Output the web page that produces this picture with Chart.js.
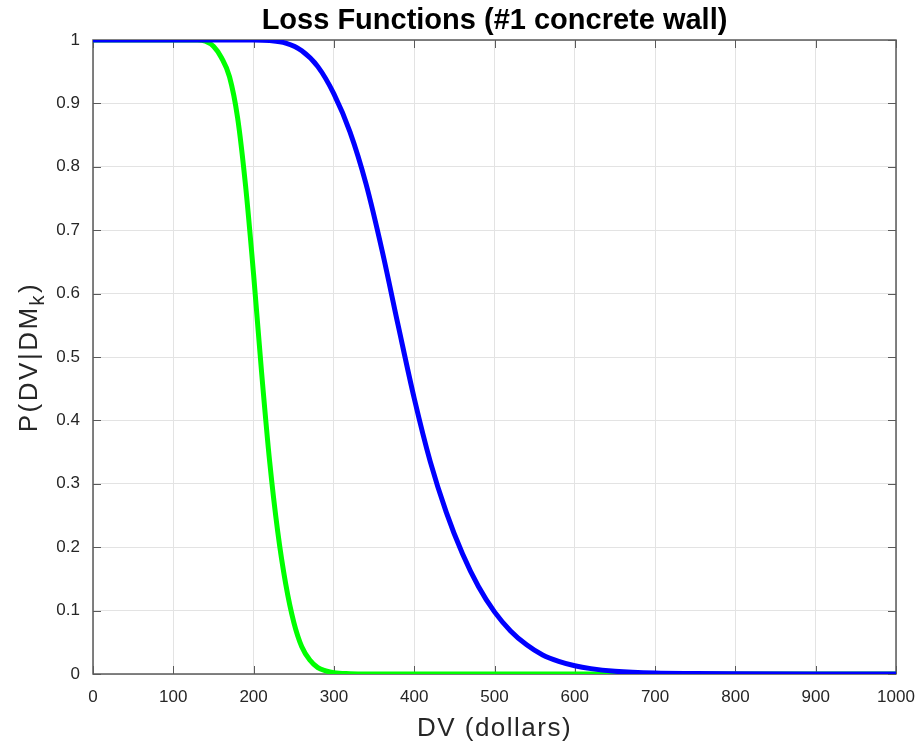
<!DOCTYPE html>
<html>
<head>
<meta charset="utf-8">
<title>Loss Functions</title>
<script src="https://cdn.jsdelivr.net/npm/chart.js@4.4.1/dist/chart.umd.min.js"></script>
<style>
  html, body { margin: 0; padding: 0; background: #fff; }
  #wrap { width: 920px; height: 749px; }
</style>
</head>
<body>
<div id="wrap"><canvas id="lossChart" width="920" height="749"></canvas></div>
<script>
// loss function for damage state 1 (green)
const dvGreen = [0, 100, 130, 140, 150, 160, 170, 180, 190, 200, 210, 220, 230, 240, 250,
  260, 270, 280, 290, 300, 320, 340, 400, 500, 600, 700, 800, 900, 1000];
const pGreen = [1, 1, 1, 0.998, 0.99, 0.972, 0.942, 0.878, 0.77, 0.63, 0.475, 0.335, 0.225,
  0.142, 0.082, 0.043, 0.022, 0.01, 0.005, 0.002, 0.0005, 0, 0, 0, 0, 0, 0, 0, 0];

// loss function for damage state 2 (blue)
const dvBlue = [0, 100, 200, 220, 240, 260, 280, 300, 320, 340, 360, 380, 400, 420, 440, 460,
  480, 500, 520, 540, 560, 580, 600, 620, 650, 700, 750, 800, 900, 1000];
const pBlue = [1, 1, 1, 0.999, 0.995, 0.983, 0.958, 0.915, 0.855, 0.773, 0.668, 0.55, 0.435,
  0.335, 0.255, 0.19, 0.138, 0.098, 0.068, 0.046, 0.03, 0.02, 0.013, 0.0085, 0.0045, 0.0015,
  0.0007, 0.0003, 0, 0];

const xTickStep = 100;
const yTickStep = 0.1;

const FONT = '"Liberation Sans", Arial, Helvetica, sans-serif';
const AXIS_COLOR = '#262626';
const FRAME_COLOR = '#5a5a5a';

function toPoints(xs, ys) {
  return xs.map((x, i) => ({ x: x, y: ys[i] }));
}

// box around the axes with inward tick marks, plus the title and axis labels
const matlabFrame = {
  id: 'matlabFrame',
  beforeDatasetsDraw(chart) {
    const ctx = chart.ctx;
    const a = chart.chartArea;
    const xs = chart.scales.x, ys = chart.scales.y;
    ctx.save();
    ctx.strokeStyle = FRAME_COLOR;
    ctx.lineWidth = 1.5;
    ctx.strokeRect(a.left, a.top, a.right - a.left, a.bottom - a.top);
    ctx.beginPath();
    xs.ticks.forEach(t => {
      const px = Math.round(xs.getPixelForValue(t.value)) + 0.5;
      ctx.moveTo(px, a.bottom); ctx.lineTo(px, a.bottom - 8);
      ctx.moveTo(px, a.top); ctx.lineTo(px, a.top + 8);
    });
    ys.ticks.forEach(t => {
      const py = Math.round(ys.getPixelForValue(t.value)) + 0.5;
      ctx.moveTo(a.left, py); ctx.lineTo(a.left + 8, py);
      ctx.moveTo(a.right, py); ctx.lineTo(a.right - 8, py);
    });
    ctx.lineWidth = 1;
    ctx.stroke();
    ctx.restore();
  },
  afterDraw(chart) {
    const ctx = chart.ctx;
    const a = chart.chartArea;
    const cx = (a.left + a.right) / 2;
    ctx.save();
    ctx.fillStyle = '#000';
    ctx.textAlign = 'center';
    ctx.textBaseline = 'alphabetic';
    ctx.font = 'bold 29px ' + FONT;
    ctx.fillText('Loss Functions (#1 concrete wall)', cx, 29);

    ctx.fillStyle = AXIS_COLOR;
    ctx.letterSpacing = '1.5px';
    ctx.font = '26px ' + FONT;
    ctx.fillText('DV (dollars)', cx, 736);

    // y label with subscript k
    ctx.translate(37, (a.top + a.bottom) / 2);
    ctx.rotate(-Math.PI / 2);
    ctx.letterSpacing = '2.5px';
    const main1 = 'P(DV|DM';
    const sub = 'k';
    const main2 = ')';
    ctx.font = '26px ' + FONT;
    const w1 = ctx.measureText(main1).width;
    const w3 = ctx.measureText(main2).width;
    ctx.font = '20px ' + FONT;
    const w2 = ctx.measureText(sub).width;
    const x0 = -(w1 + w2 + w3) / 2;
    ctx.textAlign = 'left';
    ctx.font = '26px ' + FONT;
    ctx.fillText(main1, x0, 0);
    ctx.font = '20px ' + FONT;
    ctx.fillText(sub, x0 + w1, 7);
    ctx.font = '26px ' + FONT;
    ctx.fillText(main2, x0 + w1 + w2, 0);
    ctx.restore();
  }
};

new Chart(document.getElementById('lossChart').getContext('2d'), {
  type: 'scatter',
  data: {
    datasets: [
      {
        label: 'DS2',
        data: toPoints(dvBlue, pBlue),
        showLine: true,
        borderColor: '#0000ff',
        borderWidth: 5,
        pointRadius: 0,
        cubicInterpolationMode: 'monotone',
        order: 0
      },
      {
        label: 'DS1',
        data: toPoints(dvGreen, pGreen),
        showLine: true,
        borderColor: '#00ff00',
        borderWidth: 5,
        pointRadius: 0,
        cubicInterpolationMode: 'monotone',
        order: 1
      }
    ]
  },
  options: {
    responsive: false,
    animation: false,
    layout: { padding: { left: 0, right: 24, top: 40, bottom: 0 } },
    plugins: {
      legend: { display: false },
      tooltip: { enabled: false },
      title: { display: false }
    },
    scales: {
      x: {
        type: 'linear',
        min: 0,
        max: 1000,
        ticks: {
          stepSize: xTickStep,
          color: AXIS_COLOR,
          font: { family: FONT, size: 17 },
          padding: 13,
          maxRotation: 0,
          callback: v => String(v)
        },
        grid: { color: '#e3e3e3', lineWidth: 1, drawTicks: false },
        border: { display: false },
        afterFit: s => { s.height = 75; s.paddingLeft = 0; s.paddingRight = 0; }
      },
      y: {
        type: 'linear',
        min: 0,
        max: 1,
        ticks: {
          stepSize: yTickStep,
          color: AXIS_COLOR,
          font: { family: FONT, size: 17 },
          padding: 13,
          callback: v => String(Math.round(v * 10) / 10)
        },
        grid: { color: '#e3e3e3', lineWidth: 1, drawTicks: false },
        border: { display: false },
        afterFit: s => { s.width = 93; s.paddingTop = 0; s.paddingBottom = 0; }
      }
    }
  },
  plugins: [matlabFrame]
});
</script>
</body>
</html>
